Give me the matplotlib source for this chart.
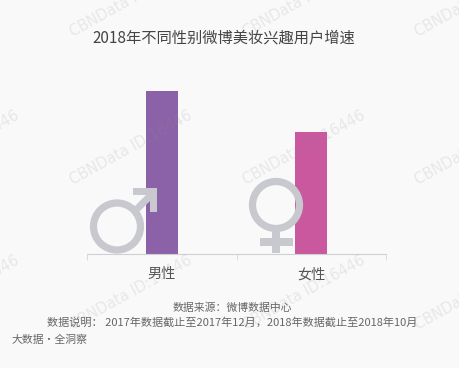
import matplotlib
matplotlib.use("Agg")
import matplotlib.pyplot as plt
from matplotlib.patches import Circle, Rectangle, Polygon
from matplotlib.transforms import Affine2D

plt.rcParams['font.family'] = ['Noto Sans CJK SC', 'DejaVu Sans']

categories = ['男性', '女性']
values = [163, 122]
colors = ['#8b62a8', '#c9589f']
title = '2018年不同性别微博美妆兴趣用户增速'
source = '数据来源：微博数据中心'
note = '数据说明： 2017年数据截止至2017年12月，2018年数据截止至2018年10月'
brand = '大数据·全洞察'
watermark = 'CBNData ID:16446'
BG = '#f9f9fa'
W, H = 459, 368

fig = plt.figure(figsize=(W/100, H/100), dpi=100, facecolor=BG)
ax = fig.add_axes([87/W, 1-253.5/H, 299/W, 193.5/H], facecolor='none')
ax.bar([0, 1], values, width=32/149.5, color=colors, zorder=2)
ax.set_xlim(-0.5, 1.5)
ax.set_ylim(0, 193.5)
ax.set_yticks([])
ax.set_xticks([0, 1], categories)
ax.set_xticks([-0.5, 0.5, 1.5], minor=True)
ax.tick_params(axis='x', which='major', length=0, pad=10, labelsize=10.2, labelcolor='#555555')
ax.tick_params(axis='x', which='minor', length=4, width=0.6, color='#d6d6da', direction='out')
for s in ['top', 'left', 'right']:
    ax.spines[s].set_visible(False)
ax.spines['bottom'].set_color('#d0d0d4')
ax.spines['bottom'].set_linewidth(0.8)

# decorative gender symbols in image pixel coordinates
px = Affine2D().scale(1, -1).translate(0, H)
ICON = '#c8c8cf'
def add(p):
    p.set_transform(px)
    p.set_zorder(3)
    fig.add_artist(p)
add(Circle((117, 226.5), 23.5, fill=False, ec=ICON, lw=5.2))
add(Polygon([(132, 209), (137, 214), (155, 196), (150, 191)], closed=True, fc=ICON, ec='none'))
add(Polygon([(133, 188), (157, 188), (157, 212), (150, 212), (150, 195), (133, 195)], closed=True, fc=ICON, ec='none'))
add(Circle((276, 205), 23.5, fill=False, ec=ICON, lw=5.2))
add(Rectangle((272, 231), 8, 22, fc=ICON, ec='none'))
add(Rectangle((260, 238), 33, 8, fc=ICON, ec='none'))

# text
fig.text(223.5/W, 1-37.5/H, title, ha='center', va='center', fontsize=11, color='#444444')
fig.text(232/W, 1-308/H, source, ha='center', va='center', fontsize=7.8, color='#666666')
fig.text(232/W, 1-322/H, note, ha='center', va='center', fontsize=8, color='#666666')
fig.text(12/W, 1-340/H, brand, ha='left', va='center', fontsize=7.8, color='#666666')

# watermarks
for x, y in [(-100, 330), (73, 330), (246, 330), (418, 330),
             (-100, 185), (73, 185), (246, 185), (418, 185),
             (-100, 37), (73, 37), (246, 37), (418, 37)]:
    fig.text(x/W, 1-y/H, watermark, rotation=29, rotation_mode='anchor', ha='left', va='baseline',
             fontsize=10.5, color='#8f8f96', alpha=0.17, family='DejaVu Sans', zorder=1)

fig.savefig('out.png', dpi=100, facecolor=BG)
